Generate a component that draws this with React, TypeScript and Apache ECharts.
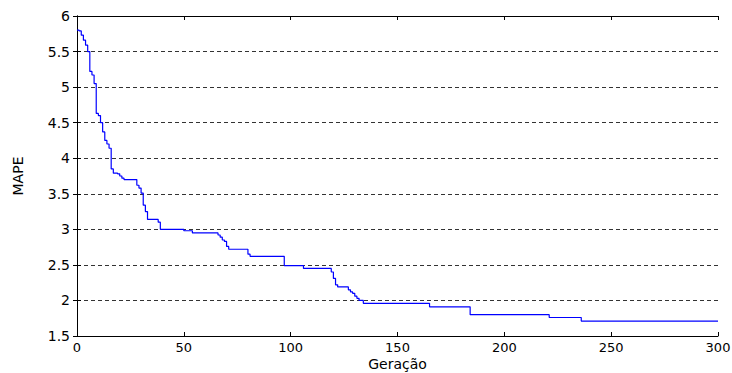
import React, { useEffect, useRef } from "react";
import * as echarts from "echarts";

// Generation at which the best MAPE changes, and the MAPE from that generation on
const generations = [
  0, 1, 2, 3, 4, 5, 6, 7, 8, 9, 10, 11, 12, 13, 14, 15, 16, 17, 19, 20, 21, 22,
  28, 29, 30, 31, 32, 33, 38, 39, 50, 54, 66, 67, 68, 69, 70, 71, 80, 81, 97,
  106, 119, 120, 121, 122, 127, 128, 129, 130, 131, 132, 134, 165, 184, 221,
  236, 300,
];
const mape = [
  5.8, 5.79, 5.73, 5.66, 5.59, 5.5, 5.22, 5.17, 5.05, 4.63, 4.6, 4.5, 4.37,
  4.25, 4.2, 4.14, 3.85, 3.79, 3.78, 3.75, 3.72, 3.7, 3.62, 3.58, 3.51, 3.34,
  3.25, 3.14, 3.1, 3.0, 2.98, 2.95, 2.92, 2.89, 2.85, 2.83, 2.76, 2.72, 2.65,
  2.62, 2.49, 2.45, 2.4, 2.31, 2.22, 2.19, 2.15, 2.12, 2.1, 2.06, 2.03, 2.0,
  1.96, 1.91, 1.8, 1.76, 1.71, 1.71,
];

const xTicks = { min: 0, max: 300, interval: 50 };
const yTicks = { min: 1.5, max: 6, interval: 0.5 };
const xName = "Geração";
const yName = "MAPE";

export default function App() {
  const ref = useRef<HTMLDivElement>(null);
  useEffect(() => {
    document.body.style.margin = "0";
    if (!ref.current) return;
    const chart = echarts.init(ref.current, null, { renderer: "svg" });
    const font = "DejaVu Sans";
    const axisLine = { show: true, lineStyle: { color: "#000", width: 1 } };
    const tick = { show: true, inside: true, length: 4, lineStyle: { color: "#000" } };
    chart.setOption({
      animation: false,
      backgroundColor: "#fff",
      grid: {
        left: 77,
        right: 14,
        top: 16,
        bottom: 37,
        containLabel: false,
        outerBoundsMode: "none",
      },
      xAxis: [
        {
          type: "value",
          position: "bottom",
          ...xTicks,
          name: xName,
          nameLocation: "middle",
          nameGap: 21,
          nameMoveOverlap: false,
          nameTextStyle: {
            fontFamily: font,
            fontSize: 14,
            color: "#000",
            verticalAlign: "top",
          },
          axisLine,
          axisTick: tick,
          axisLabel: {
            fontFamily: font,
            fontSize: 13,
            color: "#000",
            margin: 5,
          },
          splitLine: { show: false },
        },
        {
          type: "value",
          position: "top",
          ...xTicks,
          axisLine,
          axisTick: tick,
          axisLabel: { show: false },
          splitLine: { show: false },
        },
      ],
      yAxis: [
        {
          type: "value",
          position: "left",
          ...yTicks,
          name: yName,
          nameLocation: "middle",
          nameGap: 52,
          nameMoveOverlap: false,
          nameRotate: 90,
          nameTextStyle: { fontFamily: font, fontSize: 14, color: "#000" },
          axisLine,
          axisTick: tick,
          axisLabel: { fontFamily: font, fontSize: 14, color: "#000", margin: 7 },
          splitLine: {
            show: true,
            lineStyle: { color: "#333", width: 1, type: [4, 3] },
          },
        },
        {
          type: "value",
          position: "right",
          ...yTicks,
          axisLine,
          axisTick: tick,
          axisLabel: { show: false },
          splitLine: { show: false },
        },
      ],
      series: [
        {
          type: "line",
          step: "end",
          showSymbol: false,
          xAxisIndex: 0,
          yAxisIndex: 0,
          lineStyle: { color: "#0000ff", width: 1.2 },
          data: generations.map((g, i) => [g, mape[i]]),
        },
      ],
    });
    return () => chart.dispose();
  }, []);
  return <div ref={ref} style={{ width: 732, height: 373 }} />;
}
